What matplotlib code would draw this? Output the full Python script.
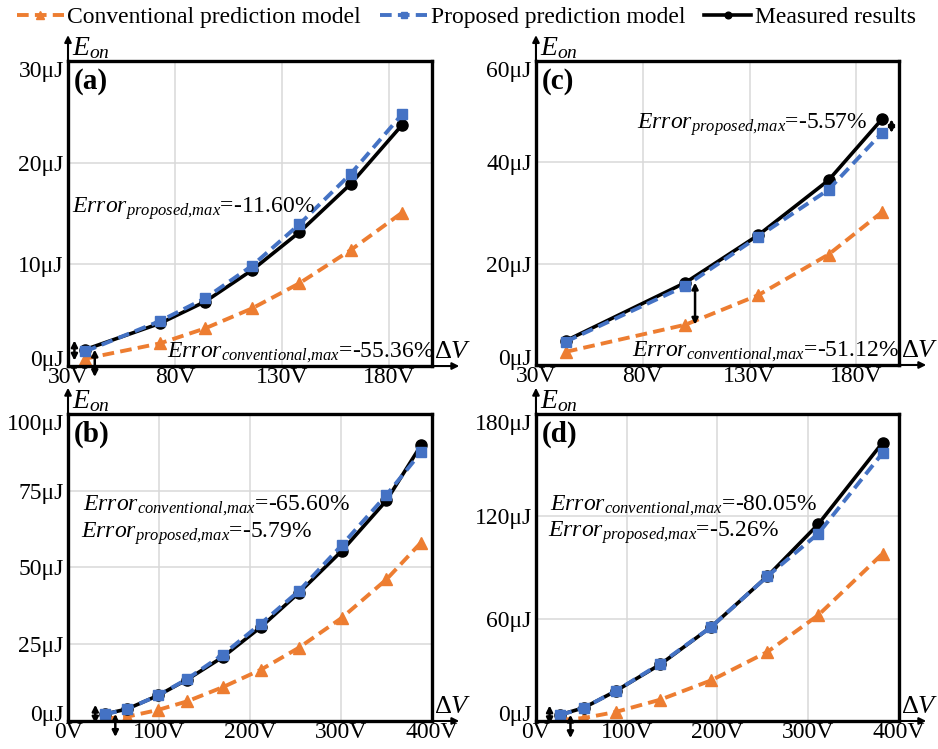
import matplotlib
matplotlib.use("Agg")
import matplotlib.pyplot as plt

plt.rcParams['font.family'] = ['Liberation Serif', 'DejaVu Serif']
plt.rcParams['mathtext.fontset'] = 'custom'
plt.rcParams['mathtext.rm'] = 'Liberation Serif'
plt.rcParams['mathtext.it'] = 'Liberation Serif:italic'
plt.rcParams['mathtext.bf'] = 'Liberation Serif:bold'

ORANGE = "#ED7D31"; BLUE = "#4472C4"

# panel (a)
va_x = [38, 73, 94, 116, 138, 162, 186]
va_meas = [1.62, 4.2, 6.33, 9.44, 13.15, 17.9, 23.7]
va_prop = [1.43, 4.43, 6.66, 9.87, 13.93, 18.89, 24.75]
va_conv = [0.72, 2.23, 3.7, 5.67, 8.13, 11.4, 15.08]

# panel (c)
vc_x = [44, 100, 134, 167, 192]
vc_meas = [4.79, 16.26, 25.6, 36.46, 48.5]
vc_prop = [4.6, 15.6, 25.3, 34.6, 45.8]
vc_conv = [2.6, 7.95, 13.77, 21.8, 30.16]

# panel (b)
vb_x = [41, 65, 99, 131, 170, 212, 254, 301, 350, 388]
vb_meas = [2.3, 3.9, 8.3, 13.5, 20.8, 30.6, 41.8, 55.4, 71.8, 89.8]
vb_prop = [2.17, 3.9, 8.3, 13.7, 21.6, 31.7, 42.4, 57.3, 73.6, 87.5]
vb_conv = [0.79, 1.4, 3.6, 6.4, 11.0, 16.7, 23.9, 33.6, 46.1, 58.1]

# panel (d)
vd_x = [27, 53, 88, 137, 193, 255, 311, 382]
vd_meas = [3.7, 7.8, 17.6, 33.2, 55.1, 84.8, 115.3, 163.2]
vd_prop = [3.5, 7.8, 17.6, 33.6, 55.1, 84.8, 109.8, 157.1]
vd_conv = [0.74, 1.76, 5.3, 12.5, 23.8, 40.5, 62.0, 98.1]

panels = [
    dict(tag="(a)", pos=[0.0725, 0.5113, 0.388, 0.4072], x=va_x, meas=va_meas, prop=va_prop, conv=va_conv,
         xlim=(30, 200), xt=[30, 80, 130, 180], ylim=(0, 30), yt=[0, 10, 20, 30],
         txt=[("proposed", "-11.60%", 0.011, 0.503), ("conventional", "-55.36%", 0.272, 0.03)],
         arr=[(0, "prop", -5), (0, "conv", 4.5)]),
    dict(tag="(c)", pos=[0.5714, 0.5127, 0.387, 0.4059], x=vc_x, meas=vc_meas, prop=vc_prop, conv=vc_conv,
         xlim=(30, 200), xt=[30, 80, 130, 180], ylim=(0, 60), yt=[0, 20, 40, 60],
         txt=[("proposed", "-5.57%", 0.278, 0.776), ("conventional", "-51.12%", 0.264, 0.027)],
         arr=[(4, "prop", 4.5), (1, "conv", 4.5)]),
    dict(tag="(b)", pos=[0.0725, 0.0374, 0.388, 0.41], x=vb_x, meas=vb_meas, prop=vb_prop, conv=vb_conv,
         xlim=(0, 400), xt=[0, 100, 200, 300, 400], ylim=(0, 100), yt=[0, 25, 50, 75, 100],
         txt=[("conventional", "-65.60%", 0.04, 0.685), ("proposed", "-5.79%", 0.036, 0.598)],
         arr=[(0, "prop", -11), (0, "conv", 11)]),
    dict(tag="(d)", pos=[0.5714, 0.0374, 0.387, 0.41], x=vd_x, meas=vd_meas, prop=vd_prop, conv=vd_conv,
         xlim=(0, 400), xt=[0, 100, 200, 300, 400], ylim=(0, 180), yt=[0, 60, 120, 180],
         txt=[("conventional", "-80.05%", 0.04, 0.687), ("proposed", "-5.26%", 0.034, 0.6)],
         arr=[(0, "prop", -12), (0, "conv", 11)]),
]

fig = plt.figure(figsize=(9.38, 7.49), dpi=100)

for p in panels:
    ax = fig.add_axes(p["pos"])
    l1, = ax.plot(p["x"], p["conv"], color=ORANGE, ls=(0, (3, 1.6)), lw=2.8, marker="^", ms=8.5,
                  label="Conventional prediction model", zorder=3)
    l2, = ax.plot(p["x"], p["prop"], color=BLUE, ls=(0, (3, 1.6)), lw=2.8, marker="s", ms=7.5,
                  label="Proposed prediction model", zorder=4)
    l3, = ax.plot(p["x"], p["meas"], color="black", lw=2.6, marker="o", ms=8,
                  label="Measured results", zorder=3.5)
    ax.set_xlim(*p["xlim"]); ax.set_ylim(*p["ylim"])
    ax.set_xticks(p["xt"]); ax.set_yticks(p["yt"])
    ax.set_xticklabels([f"{v}V" for v in p["xt"]])
    ax.set_yticklabels([f"{v}μJ" for v in p["yt"]])
    ax.tick_params(length=0, labelsize=17, pad=3)
    ax.tick_params(axis="x", pad=1)
    ylabs = ax.get_yticklabels()
    ylabs[0].set_va("baseline"); ylabs[-1].set_va("top")
    ax.grid(color="#D9D9D9", lw=1.1)
    for s in ax.spines.values():
        s.set_linewidth(2.4); s.set_zorder(5)
    ax.text(0.016, 0.978, p["tag"], transform=ax.transAxes, fontsize=21, fontweight="bold", va="top")
    for kind, val, tx, ty in p["txt"]:
        ax.text(tx, ty, r"$\mathit{Error}_{\mathit{" + kind + r"{,}max}}$=" + val,
                transform=ax.transAxes, fontsize=17, va="baseline", zorder=6)
    # error arrows
    for i, kind, dx in p["arr"]:
        y0 = p["meas"][i]
        y1 = p["prop"][i] if kind == "prop" else p["conv"][i]
        if kind == "conv" and p["tag"] in ("(a)", "(b)", "(d)"):
            y1 = y1 - (p["ylim"][1] * 0.06)
        if kind == "prop" and p["tag"] in ("(a)", "(b)", "(d)"):
            y0 = y0 + p["ylim"][1] * 0.03; y1 = y1 - p["ylim"][1] * 0.03
        ax.annotate("", xy=(p["x"][i] + dx, y1), xytext=(p["x"][i] + dx, y0),
                    arrowprops=dict(arrowstyle="<|-|>", color="black", lw=1.8,
                                    mutation_scale=9, shrinkA=0, shrinkB=0),
                    annotation_clip=False, zorder=7)
    # axis arrows and labels
    ax.annotate("", xy=(0, 1.085), xytext=(0, 1.0), xycoords="axes fraction",
                arrowprops=dict(arrowstyle="-|>", color="black", lw=1.5, mutation_scale=10,
                                shrinkA=0, shrinkB=0), annotation_clip=False)
    ax.text(0.012, 1.018, r"$\mathit{E}_{\mathit{on}}$", transform=ax.transAxes, fontsize=20,
            va="baseline", ha="left")
    ax.annotate("", xy=(1.075, 0.0), xytext=(1.0, 0.0), xycoords="axes fraction",
                arrowprops=dict(arrowstyle="-|>", color="black", lw=1.5, mutation_scale=10,
                                shrinkA=0, shrinkB=0), annotation_clip=False)
    ax.text(1.005, 0.025, r"Δ$\mathit{V}$", transform=ax.transAxes, fontsize=19,
            va="baseline", ha="left")

fig.legend(handles=[l1, l2, l3], loc="upper center", bbox_to_anchor=(0.497, 1.02), ncol=3,
           frameon=False, fontsize=17, handlelength=2.0, handletextpad=0.15, columnspacing=0.8,
           markerscale=0.6)

fig.savefig("out.png", dpi=100)
